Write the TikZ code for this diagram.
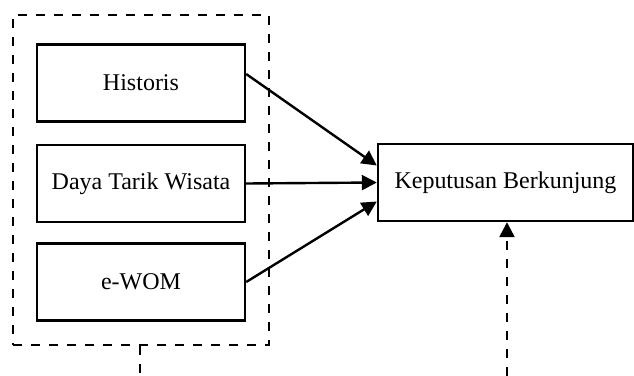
\documentclass[tikz,border=0pt]{standalone}
\usepackage{fontspec}
\setmainfont{Liberation Serif}
\usetikzlibrary{arrows.meta}

\tikzstyle{factor}=[draw,line width=1.2pt,rectangle,minimum width=104pt,minimum height=38.5pt,inner sep=0pt,font=\fontsize{12}{14}\selectfont]
\tikzstyle{group}=[draw,line width=1.2pt,dash pattern=on 4.5pt off 4.5pt,rectangle,minimum width=128pt,minimum height=165pt,inner sep=0pt]
\tikzstyle{link} = [draw,line width=1.2pt,-{Triangle[length=7.5pt,width=7.5pt]}]
\tikzstyle{dlink} = [draw,line width=1.2pt,dash pattern=on 4.5pt off 4.5pt]

\begin{document}
\begin{tikzpicture}[x=0.5pt, y=-0.5pt]
    \useasboundingbox (0,0) rectangle (634,376);
    % the dashed group round the three factors
    \node[group] (grp) at (141,180) {};
    % the factor boxes
    \foreach \pos/\name/\txt in {{(141,83)/his/Historis}, {(141,183.5)/dtw/Daya Tarik Wisata}, {(141,282)/ewom/e-WOM}}
        \node[factor] (\name) at \pos {\txt};
    \node[factor, minimum width=127.5pt] (kb) at (505.5,182.5) {Keputusan Berkunjung};
    % arrows into the decision
    \foreach \source/\sy/\ty in {his/4.5/8.5, dtw/0/0, ewom/0/-9.5}
        \path[link] ([yshift=\sy pt]\source.east) -- ([yshift=\ty pt]kb.west);
    % dashed links at the bottom
    \coordinate (lowA) at (140,376);
    \coordinate (lowB) at (507,376);
    \path[dlink] (grp.south -| lowA) -- (lowA);
    \path[dlink,-{Triangle[length=7.5pt,width=7.5pt]}] (lowB) -- (kb.south -| lowB);
\end{tikzpicture}
\end{document}
